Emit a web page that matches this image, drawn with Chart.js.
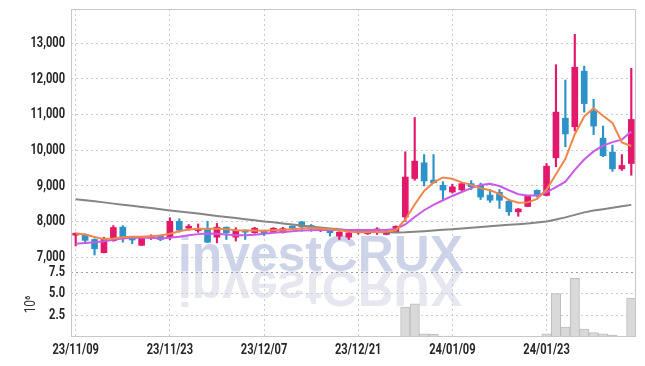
<!DOCTYPE html>
<html><head><meta charset="utf-8">
<script src="https://cdn.jsdelivr.net/npm/chart.js@4.4.1/dist/chart.umd.min.js"></script>
<style>html,body{margin:0;padding:0;background:#fff;}#wrap{width:645px;height:366px;position:relative;}</style>
</head><body><div id="wrap"><canvas id="c" width="645" height="366"></canvas></div>
<script>
const dates = ['23/11/09','23/11/10','23/11/13','23/11/14','23/11/15','23/11/16','23/11/17','23/11/20','23/11/21','23/11/22',
'23/11/23','23/11/24','23/11/27','23/11/28','23/11/29','23/11/30','23/12/01','23/12/04','23/12/05','23/12/06',
'23/12/07','23/12/08','23/12/11','23/12/12','23/12/13','23/12/14','23/12/15','23/12/18','23/12/19','23/12/20',
'23/12/21','23/12/22','23/12/26','23/12/27','23/12/28','24/01/02','24/01/03','24/01/04','24/01/05','24/01/08',
'24/01/09','24/01/10','24/01/11','24/01/12','24/01/15','24/01/16','24/01/17','24/01/18','24/01/19','24/01/22',
'24/01/23','24/01/24','24/01/25','24/01/26','24/01/29','24/01/30','24/01/31','24/02/01','24/02/02','24/02/05'];
const opens  = [7620,7640,7500,7130,7465,7845,7540,7335,7540,7610, 7560,8010,7815,7750,7805,7565,7845,7565,7760,7690,
 7725,7715,7690,7850,7995,7890,7765,7760,7595,7565, 7690,7660,7740,7640,7715,8130,9210,9650,9165,9020,
 8830,8890,9065,9020,8745,8820,8575,8275,8425,8880, 8735,9790,10900,10660,12220,11100,10340,9950,9480,9630];
const highs  = [7680,7660,7520,7560,7890,7890,7550,7590,7630,7630, 8110,8080,7920,7935,8010,7950,7850,7830,7770,7840,
 7735,7830,7840,7880,8000,7920,7840,7770,7720,7700, 7790,7780,7830,7760,7880,9960,10920,9880,9880,9120,
 9050,9100,9150,9080,8900,8900,8620,8370,8730,8890, 9630,12400,11970,13250,12360,11430,10680,10145,9880,12300];
const lows   = [7320,7440,7065,7120,7450,7425,7380,7330,7500,7465, 7490,7705,7760,7700,7410,7405,7500,7455,7500,7670,
 7610,7690,7680,7790,7735,7730,7720,7595,7500,7500, 7650,7640,7640,7630,7700,8010,9160,9000,9080,8620,
 8800,8850,8900,8620,8540,8370,8175,8150,8420,8690, 8720,9540,10100,10540,11070,10440,9820,9410,9435,9300];
const closes = [7670,7475,7240,7530,7835,7530,7485,7575,7595,7500, 8010,7760,7870,7765,7425,7845,7690,7760,7705,7815,
 7690,7815,7805,7820,7855,7820,7805,7690,7705,7685, 7760,7760,7755,7740,7870,9250,9696,9140,9090,8885,
 8975,9065,8980,8690,8600,8600,8275,8355,8725,8745, 9555,11070,10460,12330,11310,10680,9850,9480,9575,10865];
const ma5  = [7665,7640,7570,7510,7525,7560,7575,7575,7590,7610, 7660,7730,7780,7800,7800,7800,7790,7760,7750,7755,
 7745,7760,7770,7790,7810,7820,7810,7790,7760,7720, 7700,7700,7710,7720,7760,8060,8480,8860,9100,9240,
 9200,9100,9030,8940,8880,8780,8610,8530,8540,8640, 8900,9330,9760,10450,10950,11180,10970,10770,10220,10120];
const ma20 = [7380,7400,7420,7450,7490,7530,7545,7550,7545,7530, 7550,7575,7620,7650,7668,7660,7640,7620,7615,7635,
 7660,7690,7710,7730,7750,7760,7765,7765,7765,7765, 7765,7765,7765,7770,7790,7920,8130,8320,8470,8600,
 8720,8830,8940,9030,9060,9000,8880,8770,8730,8730, 8820,8970,9120,9450,9740,9970,10130,10230,10300,10530];
const ma60 = [8630,8600,8570,8540,8505,8475,8445,8410,8380,8350, 8315,8285,8255,8225,8190,8160,8130,8100,8070,8040,
 8005,7980,7950,7920,7890,7860,7835,7810,7785,7760, 7740,7725,7710,7700,7695,7700,7715,7730,7750,7770,
 7790,7810,7830,7850,7870,7890,7910,7930,7950,7975, 8005,8060,8120,8190,8260,8310,8350,8390,8430,8470];
const volumes = [0.03,0.03,0.03,0.03,0.03,0.03,0.03,0.03,0.03,0.03, 0.03,0.03,0.03,0.03,0.03,0.03,0.03,0.03,0.03,0.03,
 0.03,0.03,0.03,0.03,0.03,0.03,0.03,0.03,0.03,0.03, 0.03,0.03,0.03,0.03,0.05,3.45,3.83,0.38,0.35,0.1,
 0.1,0.08,0.05,0.04,0.04,0.03,0.03,0.02,0.03,0.05, 0.38,5.0,1.15,6.78,0.92,0.5,0.38,0.23,0.1,4.48];
const priceTicks = [7000,8000,9000,10000,11000,12000,13000];
const volTicks = [2.5,5.0,7.5];
const volUnit = '10⁶';

const UP = '#e2196a', DOWN = '#2d92c8';
const candleColors = opens.map((o,i)=> closes[i] >= o ? UP : DOWN);
const TXT = '#262626';
const GRID = '#c9cbd8';
const LABEL_FONT = 'bold 15px Roboto, "DejaVu Sans", sans-serif';
const SX = 0.74;

const watermark = {
  id:'wm',
  beforeDraw(chart){
    const ctx = chart.ctx; ctx.save();
    let fs = 52; const fam = '"Liberation Sans", Arial, sans-serif';
    ctx.font = 'bold ' + fs + 'px ' + fam;
    const w = ctx.measureText('investCRUX').width; fs = fs * 285 / w;
    ctx.font = 'bold ' + fs + 'px ' + fam;
    ctx.textAlign = 'left'; ctx.textBaseline = 'alphabetic';
    ctx.fillStyle = '#cdd3e8';
    ctx.fillText('investCRUX', 178, 271);
    ctx.translate(0, 542); ctx.scale(1, -1);
    ctx.fillStyle = '#e6e7ef';
    ctx.fillText('investCRUX', 178, 271);
    ctx.restore();
  }
};
const frame = {
  id:'frame',
  afterDraw(chart){
    const a = chart.chartArea, ctx = chart.ctx; ctx.save();
    ctx.strokeStyle = '#c8c8c8'; ctx.lineWidth = 1;
    ctx.strokeRect(Math.round(a.left)+0.5, Math.round(a.top)+0.5, Math.round(a.right-a.left)-1, Math.round(a.bottom-a.top)-1);
    ctx.restore();
  }
};
const labels = {
  id:'labels',
  afterDraw(chart){
    const ctx = chart.ctx, a = chart.chartArea;
    const put = (txt, x, y, align) => {
      ctx.save(); ctx.translate(x, y); ctx.scale(SX, 1);
      ctx.textAlign = align; ctx.textBaseline = 'middle'; ctx.fillText(txt, 0, 0); ctx.restore();
    };
    ctx.save(); ctx.fillStyle = TXT; ctx.font = LABEL_FONT;
    const ys = chart.scales.y, yv = chart.scales.yv, xs = chart.scales.x;
    priceTicks.forEach(v => put(v.toLocaleString('en-US'), a.left - 6, ys.getPixelForValue(v), 'right'));
    volTicks.forEach(v => put(v.toFixed(1), a.left - 6, yv.getPixelForValue(v), 'right'));
    dates.forEach((d, i) => { if (i % 10 === 0) put(d, xs.getPixelForValue(i), a.bottom + 13, 'center'); });
    // volume unit title, rotated
    ctx.font = '14px Roboto, "DejaVu Sans", sans-serif'; ctx.fillStyle = '#333';
    ctx.translate(31, (yv.top + yv.bottom) / 2); ctx.rotate(-Math.PI / 2); ctx.scale(0.85, 1);
    ctx.textAlign = 'center'; ctx.textBaseline = 'middle'; ctx.fillText(volUnit, 0, 0);
    ctx.restore();
  }
};

new Chart(document.getElementById('c'), {
  data: {
    labels: dates,
    datasets: [
      {type:'line', data: ma5, borderColor:'#f0874a', borderWidth:2, pointRadius:0, yAxisID:'y', order:0},
      {type:'line', data: ma20, borderColor:'#c85ce8', borderWidth:2, pointRadius:0, yAxisID:'y', order:0},
      {type:'line', data: ma60, borderColor:'#858585', borderWidth:2, pointRadius:0, yAxisID:'y', order:0},
      {type:'bar', data: lows.map((l,i)=>[l, highs[i]]), backgroundColor: candleColors, barThickness:1.5, grouped:false, yAxisID:'y', order:2},
      {type:'bar', data: opens.map((o,i)=>[o, closes[i]]), backgroundColor: candleColors, barThickness:6, minBarLength:2, grouped:false, yAxisID:'y', order:1},
      {type:'bar', data: volumes, backgroundColor:'#d9d9d9', borderColor:'#bdbdbd', borderWidth:1, barPercentage:1, categoryPercentage:1, grouped:false, yAxisID:'yv', order:3}
    ]
  },
  options: {
    responsive:false, animation:false, devicePixelRatio:1,
    layout:{padding:{left:0, right:9, top:9, bottom:0}},
    plugins:{legend:{display:false}, tooltip:{enabled:false}},
    scales:{
      x:{
        offset:true,
        grid:{offset:false, drawTicks:false, color: c => (c.index % 10 === 0 ? GRID : 'transparent'), lineWidth:1},
        border:{display:false, dash:[2,3]},
        ticks:{display:false, autoSkip:false, maxRotation:0},
        afterFit: s => { s.height = 29; }
      },
      yv:{
        axis:'y', position:'left', stack:'p', stackWeight:65, min:0, max:7.5,
        afterBuildTicks: s => { s.ticks = volTicks.map(v => ({value:v})); },
        ticks:{display:false},
        grid:{drawTicks:false, color: c => (c.tick && c.tick.value === 7.5 ? '#9a9aa8' : GRID), lineWidth:1},
        border:{display:false, dash:[2,3]},
        afterFit: s => { s.width = 71; }
      },
      y:{
        position:'left', stack:'p', stackWeight:263, min:6588, max:13962,
        afterBuildTicks: s => { s.ticks = priceTicks.map(v => ({value:v})); },
        ticks:{display:false},
        grid:{drawTicks:false, color: GRID, lineWidth:1},
        border:{display:false, dash:[2,3]},
        afterFit: s => { s.width = 71; }
      }
    }
  },
  plugins:[watermark, frame, labels]
});
</script>
</body></html>
